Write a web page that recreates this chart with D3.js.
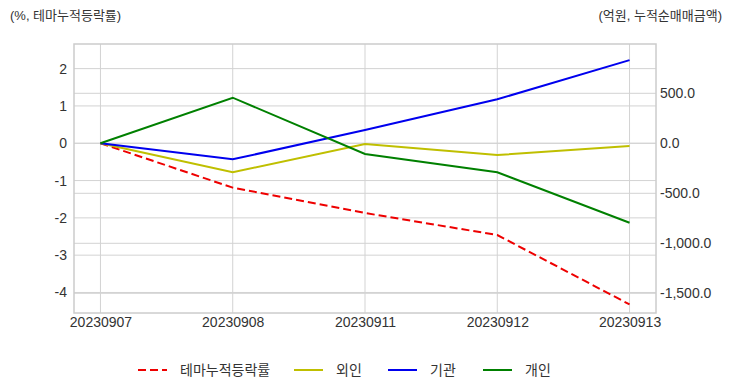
<!DOCTYPE html>
<html>
<head>
  <meta charset="utf-8">
  <title>테마누적등락률 / 누적순매매금액</title>
  <script src="https://d3js.org/d3.v7.min.js"></script>
  <style>
    body { margin: 0; background: #fff; }
    text { font-family: "Liberation Sans", Arial, "Noto Sans CJK KR", sans-serif; fill: #333; }
  </style>
</head>
<body>
  <svg width="732" height="392"></svg>
  <script>
// data
const dates = ['20230907', '20230908', '20230911', '20230912', '20230913'];
const themeRate = [0, -1.19, -1.87, -2.46, -4.32];   // %, left axis
const foreign = [0, -290, -8, -117, -27];           // 억원, right axis
const institution = [0, -160, 132, 440, 832];
const individual = [0, 456, -107, -290, -794];

const leftTicks = [-4, -3, -2, -1, 0, 1, 2];
const rightTicks = [-1500, -1000, -500, 0, 500];
const leftDomain = [-4.55, 2.66];
const rightDomain = [-1697, 993];

const series = [
  { name: '테마누적등락률', values: themeRate, axis: 'left', color: '#ee0000', dash: '8,4' },
  { name: '외인', values: foreign, axis: 'right', color: '#bfbf00', dash: null },
  { name: '기관', values: institution, axis: 'right', color: '#0000ee', dash: null },
  { name: '개인', values: individual, axis: 'right', color: '#008000', dash: null },
];

const margin = { top: 44, right: 76, bottom: 79, left: 74 };
const width = 732 - margin.left - margin.right;
const height = 392 - margin.top - margin.bottom;

const svg = d3.select('svg');
const g = svg.append('g').attr('transform', `translate(${margin.left},${margin.top})`);

// x: points with 5% margin on each side, like matplotlib
const x = d3.scalePoint().domain(dates).range([0, width]).padding(0.2);
const yL = d3.scaleLinear().domain(leftDomain).range([height, 0]);
const yR = d3.scaleLinear().domain(rightDomain).range([height, 0]);

// grid
const gridColor = '#d3d3d3';
g.append('g').selectAll('line').data(dates).join('line')
  .attr('x1', d => x(d)).attr('x2', d => x(d))
  .attr('y1', 0).attr('y2', height)
  .attr('stroke', gridColor).attr('stroke-width', 1);
g.append('g').selectAll('line').data(leftTicks).join('line')
  .attr('x1', 0).attr('x2', width)
  .attr('y1', d => yL(d)).attr('y2', d => yL(d))
  .attr('stroke', gridColor).attr('stroke-width', 1);
g.append('g').selectAll('line').data(rightTicks).join('line')
  .attr('x1', 0).attr('x2', width)
  .attr('y1', d => yR(d)).attr('y2', d => yR(d))
  .attr('stroke', gridColor).attr('stroke-width', 1);

// frame
g.append('rect').attr('width', width).attr('height', height)
  .attr('fill', 'none').attr('stroke', '#cccccc').attr('stroke-width', 1.5);

// axes
const axL = g.append('g').call(d3.axisLeft(yL).tickValues(leftTicks).tickSize(0).tickPadding(7));
const axR = g.append('g').attr('transform', `translate(${width},0)`)
  .call(d3.axisRight(yR).tickValues(rightTicks).tickSize(0).tickPadding(4));
const axX = g.append('g').attr('transform', `translate(0,${height})`)
  .call(d3.axisBottom(x).tickSize(0).tickPadding(4));
[axL, axR, axX].forEach(a => {
  a.select('.domain').remove();
  a.selectAll('text').attr('font-size', 14).attr('fill', '#333')
    .style('font-family', '"Liberation Sans", Arial, sans-serif');
});
axR.selectAll('text').text(d => d3.format(',.1f')(d).replace('−', '-'));
axL.selectAll('text').text(d => String(d));

// lines
series.forEach(s => {
  const y = s.axis === 'left' ? yL : yR;
  const line = d3.line().x((d, i) => x(dates[i])).y(d => y(d));
  g.append('path').datum(s.values)
    .attr('fill', 'none')
    .attr('stroke', s.color)
    .attr('stroke-width', 2)
    .attr('stroke-dasharray', s.dash)
    .attr('d', line);
});

// axis titles
svg.append('text').attr('x', 10).attr('y', 20).attr('font-size', 13)
  .text('(%, 테마누적등락률)');
svg.append('text').attr('x', 722).attr('y', 20).attr('font-size', 13)
  .attr('text-anchor', 'end').text('(억원, 누적순매매금액)');

// legend
const legendX = [138, 294, 388, 483];
const legend = svg.append('g').attr('transform', 'translate(0,370)');
const item = legend.selectAll('g').data(series).join('g')
  .attr('transform', (d, i) => `translate(${legendX[i]},0)`);
item.append('line').attr('x1', 0).attr('x2', 29).attr('y1', 0).attr('y2', 0)
  .attr('stroke', d => d.color).attr('stroke-width', 2)
  .attr('stroke-dasharray', d => d.dash);
item.append('text').attr('x', 42).attr('y', 0).attr('dy', '0.35em')
  .attr('font-size', 14).text(d => d.name);
  </script>
</body>
</html>
